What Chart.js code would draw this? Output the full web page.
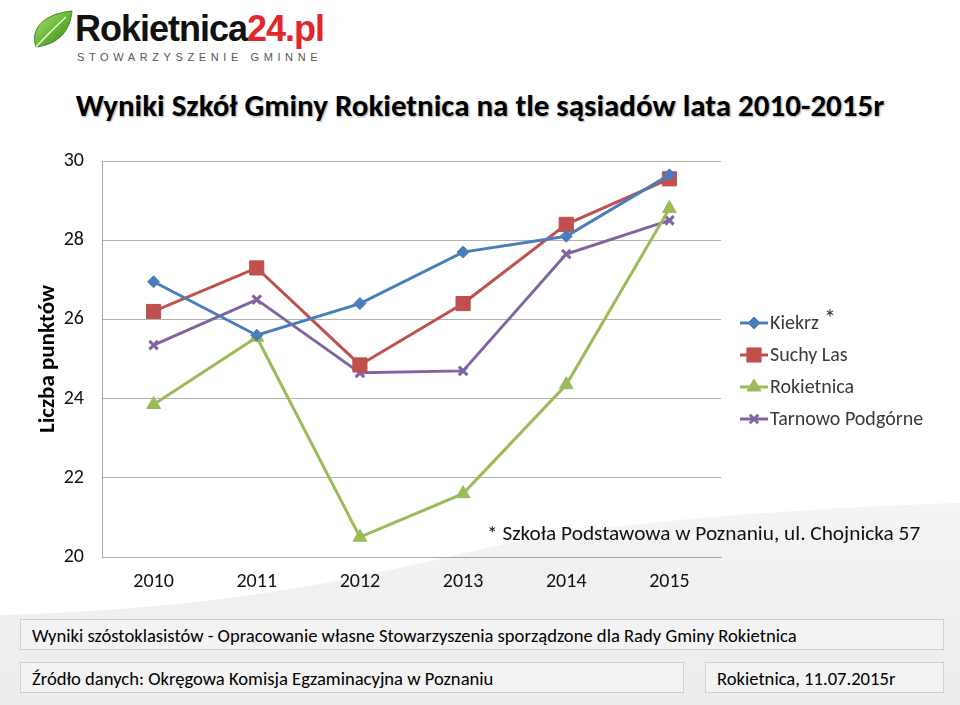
<!DOCTYPE html>
<html>
<head>
<meta charset="utf-8">
<script src="https://cdn.jsdelivr.net/npm/chart.js@4/dist/chart.umd.min.js"></script>
<style>
  html, body { margin: 0; padding: 0; }
  body { width: 960px; height: 705px; position: relative; overflow: hidden; background: #fff;
         font-family: Carlito, Lato, "Open Sans", sans-serif; color: #111; }
  .bg { position: absolute; left: 0; top: 0; }
  .logo-name { position: absolute; left: 75px; top: 8px; font-family: "Liberation Sans", Arial, sans-serif;
               font-weight: bold; font-size: 36px; letter-spacing: -1px; color: #111; }
  .logo-name span { color: #e3262b; }
  .logo-sub { position: absolute; left: 77px; top: 51px; font-family: "Liberation Sans", Arial, sans-serif;
              font-size: 11px; letter-spacing: 4.6px; color: #555; }
  .title { position: absolute; left: 0; width: 960px; top: 86px; text-align: center;
           font-family: Carlito, Lato, sans-serif; font-weight: bold; font-size: 31px; color: #000;
           text-shadow: 1px 1px 2px rgba(0,0,0,0.35); }
  #chartBox { position: absolute; left: 0; top: 131px; width: 960px; height: 474px; }
  .note { position: absolute; left: 487px; top: 520px; font-size: 21.3px; color: #111; }
  .box { position: absolute; height: 31px; line-height: 31px; background: #f3f3f3; border: 1px solid #cfcfcf;
         padding-left: 11px; box-sizing: border-box; font-size: 18.6px; color: #000; white-space: nowrap; }
</style>
</head>
<body>
<svg class="bg" width="960" height="705">
  <defs>
    <linearGradient id="sw" x1="0" y1="0" x2="0" y2="1">
      <stop offset="0" stop-color="#f4f4f4"/>
      <stop offset="1" stop-color="#ececec"/>
    </linearGradient>
    <linearGradient id="leaf" x1="0" y1="0" x2="1" y2="1">
      <stop offset="0" stop-color="#b6e07a"/>
      <stop offset="0.5" stop-color="#6cb83a"/>
      <stop offset="1" stop-color="#2f7d1f"/>
    </linearGradient>
  </defs>
  <path d="M0,615 C250,608 380,572 500,545 C610,522 800,508 960,503 L960,705 L0,705 Z" fill="url(#sw)"/>
  <path d="M36,47 C30,30 42,14 72,11 C70,30 60,44 36,47 Z" fill="url(#leaf)" stroke="#3d8a26" stroke-width="1"/>
  <path d="M36,47 C46,36 56,26 66,17" stroke="#e9f7d8" stroke-width="1.5" fill="none"/>
</svg>
<div class="logo-name">Rokietnica<span>24.pl</span></div>
<div class="logo-sub">STOWARZYSZENIE GMINNE</div>
<div class="title">Wyniki Szkół Gminy Rokietnica na tle sąsiadów lata 2010-2015r</div>
<div id="chartBox"><canvas id="lineCanvas"></canvas></div>
<div class="note">* Szkoła Podstawowa w Poznaniu, ul. Chojnicka 57</div>
<div class="box" style="left:20px; top:619px; width:924px;">Wyniki szóstoklasistów - Opracowanie własne Stowarzyszenia sporządzone dla Rady Gminy Rokietnica</div>
<div class="box" style="left:20px; top:662px; width:664px;">Źródło danych: Okręgowa Komisja Egzaminacyjna w Poznaniu</div>
<div class="box" style="left:705px; top:662px; width:239px;">Rokietnica, 11.07.2015r</div>

<script>
// data
const years = ['2010', '2011', '2012', '2013', '2014', '2015'];
const kiekrz = [26.95, 25.6, 26.4, 27.7, 28.1, 29.65];
const suchyLas = [26.2, 27.3, 24.85, 26.4, 28.4, 29.55];
const rokietnica = [23.85, 25.55, 20.5, 21.6, 24.35, 28.8];
const tarnowo = [25.35, 26.5, 24.65, 24.7, 27.65, 28.5];
const seriesNames = ['Kiekrz', 'Suchy Las', 'Rokietnica', 'Tarnowo Podgórne'];
const seriesMarks = ['*', '', '', ''];

Chart.defaults.font.family = 'Carlito, Lato, "Open Sans", sans-serif';
Chart.defaults.color = '#111';

function series(label, data, color, style, radius) {
    return {
        label: label,
        data: data,
        borderColor: color,
        backgroundColor: color,
        borderWidth: 3,
        pointStyle: style,
        pointRadius: radius,
        pointHoverRadius: radius,
        pointBorderWidth: style === 'crossRot' ? 3 : 1,
        tension: 0,
    };
}

// legend drawn by hand: line + marker like in the original
const sideLegend = {
    id: 'sideLegend',
    afterDraw(chart) {
        const ctx = chart.ctx;
        chart.data.datasets.forEach((ds, i) => {
            const y = 192 + i * 32;
            ctx.save();
            ctx.strokeStyle = ds.borderColor;
            ctx.lineWidth = 3;
            ctx.beginPath();
            ctx.moveTo(740, y);
            ctx.lineTo(768, y);
            ctx.stroke();
            ctx.fillStyle = ds.backgroundColor;
            ctx.lineWidth = ds.pointBorderWidth;
            Chart.helpers.drawPoint(ctx, {
                pointStyle: ds.pointStyle,
                radius: ds.pointRadius,
                rotation: 0,
                borderWidth: ds.pointBorderWidth
            }, 754, y);
            ctx.fillStyle = '#3a3a3a';
            ctx.font = '20px Carlito, Lato, sans-serif';
            ctx.textBaseline = 'middle';
            ctx.fillText(ds.label, 770, y + 1);
            if (seriesMarks[i]) {
                const w = ctx.measureText(ds.label).width;
                ctx.font = '24px Carlito, Lato, sans-serif';
                ctx.fillText(seriesMarks[i], 770 + w + 5, y - 3);
            }
            ctx.restore();
        });
    }
};

new Chart(document.getElementById('lineCanvas'), {
    type: 'line',
    data: {
        labels: years,
        datasets: [
            series(seriesNames[0], kiekrz, '#4a7ebb', 'rectRot', 6),
            series(seriesNames[1], suchyLas, '#c0504d', 'rect', 10),
            series(seriesNames[2], rokietnica, '#9bbb59', 'triangle', 8),
            series(seriesNames[3], tarnowo, '#8064a2', 'crossRot', 6),
        ],
    },
    options: {
        responsive: true,
        maintainAspectRatio: false,
        animation: false,
        layout: { padding: { left: 20, right: 239, top: 3, bottom: 0 } },
        scales: {
            x: {
                offset: true,
                grid: { color: 'transparent', drawTicks: false },
                border: { color: '#a6a6a6', width: 1 },
                ticks: { padding: 13, font: { size: 20 }, color: '#111' },
                afterFit: (scale) => { scale.height = 48; }
            },
            y: {
                min: 20,
                max: 30,
                ticks: { stepSize: 2, padding: 18, font: { size: 20 }, color: '#111' },
                grid: { color: '#b3b3b3', drawTicks: false },
                border: { color: '#a6a6a6', width: 1 },
                title: {
                    display: true,
                    text: 'Liczba punktów',
                    font: { size: 23, weight: 'bold' },
                    color: '#000',
                    padding: { top: 14, bottom: 0 }
                },
                afterFit: (scale) => { scale.width = 82; }
            }
        },
        plugins: {
            legend: { display: false },
            tooltip: { enabled: false }
        }
    },
    plugins: [sideLegend]
});
</script>
</body>
</html>
